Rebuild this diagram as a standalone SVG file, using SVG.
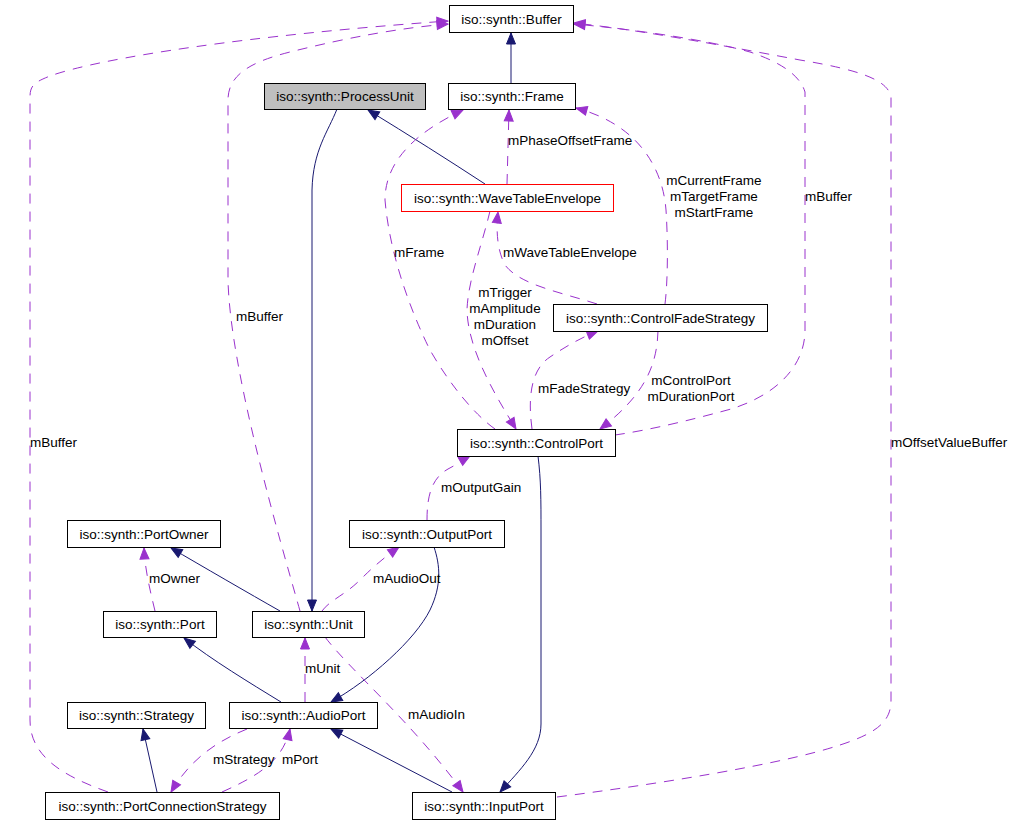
<svg xmlns="http://www.w3.org/2000/svg" width="1016" height="824" viewBox="0 0 1016 824">
<style>
.node rect{fill:#ffffff;stroke:#000000;stroke-width:1}
.node text,.lbl{font-family:"Liberation Sans",Arial,sans-serif;font-size:13.5px;fill:#000000}
.node text{text-anchor:middle}
.mid{text-anchor:middle}
.inh{fill:none;stroke:#191970;stroke-width:1;marker-end:url(#an)}
.use{fill:none;stroke:#9a32cd;stroke-width:1;stroke-dasharray:10,8;marker-end:url(#ap)}
</style>
<defs>
<marker id="an" markerUnits="userSpaceOnUse" markerWidth="12" markerHeight="10" refX="11" refY="4.5" orient="auto" overflow="visible"><path d="M0,0 L11,4.5 L0,9 z" fill="#191970" stroke="#191970" stroke-width="1"/></marker>
<marker id="ap" markerUnits="userSpaceOnUse" markerWidth="12" markerHeight="10" refX="11" refY="4.5" orient="auto" overflow="visible"><path d="M0,0 L11,4.5 L0,9 z" fill="#9a32cd" stroke="#9a32cd" stroke-width="1"/></marker>
</defs>
<rect x="0" y="0" width="1016" height="824" fill="#ffffff"/>
<g id="connectors">
<path class="inh" d="M511,83 L511,33"/>
<path class="inh" d="M485,184 Q430,148 368,110"/>
<path class="inh" d="M337,109 C328,132 313,150 312,190 L312,611"/>
<path class="inh" d="M280,611 C250,594 200,565 171,548"/>
<path class="inh" d="M281,702 C250,683 212,660 184,638"/>
<path class="inh" d="M434,547 C440,565 442,585 430,610 C415,640 370,680 331,702"/>
<path class="inh" d="M452,792 L331,729"/>
<path class="inh" d="M538,456 C541,480 541,500 541,530 L541,724 C541,750 520,770 500,792"/>
<path class="inh" d="M157,792 L143,729"/>
<path class="use" d="M155,611 C150,590 145,570 144,548"/>
<path class="use" d="M305,702 L305,638"/>
<path class="use" d="M222,792 C260,775 283,760 290,729"/>
<path class="use" d="M247,729 C215,742 190,760 171,792"/>
<path class="use" d="M108,792 C60,775 30,755 30,720 L30,97 C30,85 35,82 50,76 C100,58 250,35 448,21"/>
<path class="use" d="M300,611 C280,540 230,370 228,280 L228,100 C228,75 250,62 290,52 C350,37 400,28 448,24"/>
<path class="use" d="M615,435 C650,430 690,420 720,412 C770,400 805,370 805,330 L805,92 C800,75 780,62 750,52 C700,38 620,28 574,24"/>
<path class="use" d="M557,797 C650,785 780,765 840,745 C880,732 891,720 891,700 L891,97 C888,80 860,70 800,60 C720,45 640,30 574,23"/>
<path class="use" d="M495,429 C475,415 450,385 430,350 C415,320 390,260 385,200 C385,165 410,135 463,110"/>
<path class="use" d="M490,211 C482,245 468,280 467,310 C468,350 495,395 516,429"/>
<path class="use" d="M597,304 C560,292 520,285 505,265 C497,250 496,230 498,212"/>
<path class="use" d="M507,184 L509,110"/>
<path class="use" d="M665,304 C668,280 668,240 666,210 C663,170 640,125 576,108"/>
<path class="use" d="M532,429 C528,400 530,370 550,357 C565,347 580,338 598,331"/>
<path class="use" d="M658,331 C657,365 645,395 600,429"/>
<path class="use" d="M427,520 C427,495 432,478 448,469 C456,465 463,460 470,456"/>
<path class="use" d="M322,611 C330,600 345,595 360,580 C375,565 385,557 399,547"/>
<path class="use" d="M325,637 C350,670 410,720 463,792"/>
</g>
<g id="labels">
<text class="lbl" x="508" y="145">mPhaseOffsetFrame</text>
<text class="lbl mid" x="714" y="185">mCurrentFrame</text>
<text class="lbl mid" x="714" y="201">mTargetFrame</text>
<text class="lbl mid" x="714" y="217">mStartFrame</text>
<text class="lbl" x="805" y="201">mBuffer</text>
<text class="lbl" x="394" y="257">mFrame</text>
<text class="lbl" x="503" y="257">mWaveTableEnvelope</text>
<text class="lbl" x="236" y="321">mBuffer</text>
<text class="lbl mid" x="505" y="297">mTrigger</text>
<text class="lbl mid" x="505" y="313">mAmplitude</text>
<text class="lbl mid" x="505" y="329">mDuration</text>
<text class="lbl mid" x="505" y="345">mOffset</text>
<text class="lbl" x="538" y="393">mFadeStrategy</text>
<text class="lbl mid" x="691" y="385">mControlPort</text>
<text class="lbl mid" x="691" y="401">mDurationPort</text>
<text class="lbl" x="30" y="447">mBuffer</text>
<text class="lbl" x="891" y="447">mOffsetValueBuffer</text>
<text class="lbl" x="441" y="492">mOutputGain</text>
<text class="lbl" x="149" y="583">mOwner</text>
<text class="lbl" x="373" y="583">mAudioOut</text>
<text class="lbl" x="305" y="673">mUnit</text>
<text class="lbl" x="408" y="719">mAudioIn</text>
<text class="lbl" x="213" y="764">mStrategy</text>
<text class="lbl" x="282" y="764">mPort</text>
</g>
<g id="node-Buffer" class="node"><rect x="449.5" y="5.5" width="124" height="27"/><text x="511.5" y="23.5">iso::synth::Buffer</text></g>
<g id="node-Frame" class="node"><rect x="448.5" y="83.5" width="127" height="26"/><text x="512" y="101">iso::synth::Frame</text></g>
<g id="node-ProcessUnit" class="node"><rect x="264.5" y="83.5" width="161" height="26" style="fill:#bfbfbf"/><text x="345" y="101">iso::synth::ProcessUnit</text></g>
<g id="node-WaveTableEnvelope" class="node"><rect x="401.5" y="184.5" width="212" height="27" style="stroke:#ff0000"/><text x="507.5" y="202.5">iso::synth::WaveTableEnvelope</text></g>
<g id="node-ControlFadeStrategy" class="node"><rect x="553.5" y="304.5" width="214" height="27"/><text x="660.5" y="322.5">iso::synth::ControlFadeStrategy</text></g>
<g id="node-ControlPort" class="node"><rect x="457.5" y="429.5" width="158" height="27"/><text x="536.5" y="447.5">iso::synth::ControlPort</text></g>
<g id="node-OutputPort" class="node"><rect x="349.5" y="520.5" width="155" height="27"/><text x="427" y="538.5">iso::synth::OutputPort</text></g>
<g id="node-PortOwner" class="node"><rect x="67.5" y="520.5" width="153" height="27"/><text x="144" y="538.5">iso::synth::PortOwner</text></g>
<g id="node-Port" class="node"><rect x="103.5" y="611.5" width="113" height="26"/><text x="160" y="629">iso::synth::Port</text></g>
<g id="node-Unit" class="node"><rect x="252.5" y="611.5" width="112" height="26"/><text x="308.5" y="629">iso::synth::Unit</text></g>
<g id="node-Strategy" class="node"><rect x="67.5" y="702.5" width="138" height="26"/><text x="136.5" y="720">iso::synth::Strategy</text></g>
<g id="node-AudioPort" class="node"><rect x="229.5" y="702.5" width="148" height="26"/><text x="303.5" y="720">iso::synth::AudioPort</text></g>
<g id="node-PortConnectionStrategy" class="node"><rect x="45.5" y="792.5" width="234" height="27"/><text x="162.5" y="810.5">iso::synth::PortConnectionStrategy</text></g>
<g id="node-InputPort" class="node"><rect x="412.5" y="792.5" width="143" height="27"/><text x="484" y="810.5">iso::synth::InputPort</text></g>
</svg>
